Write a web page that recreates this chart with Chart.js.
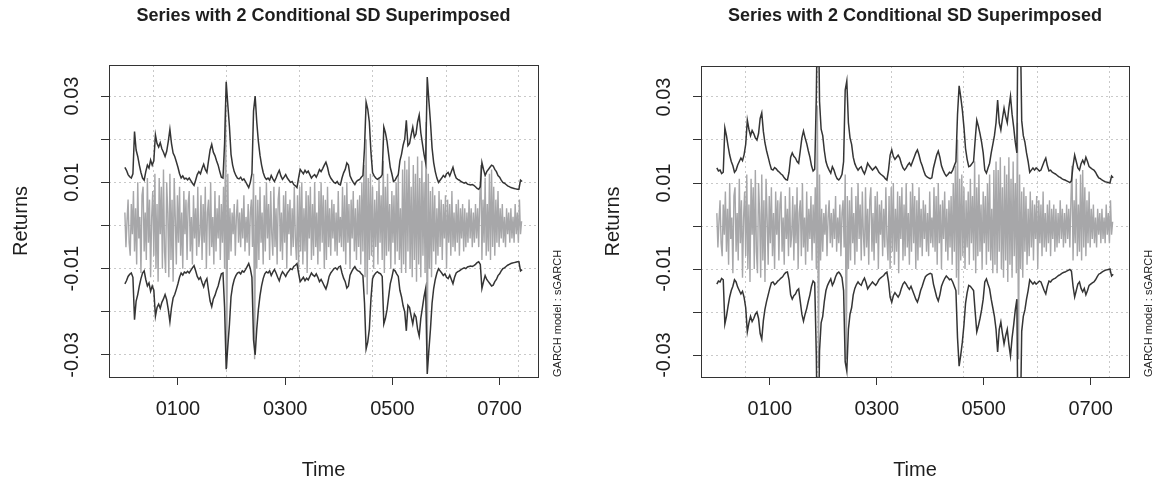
<!DOCTYPE html>
<html>
<head>
<meta charset="utf-8">
<script src="https://cdn.jsdelivr.net/npm/chart.js@4.4.1/dist/chart.umd.min.js"></script>
<style>
  html, body { margin: 0; padding: 0; background: #fff; }
  #wrap { position: relative; width: 1154px; height: 484px; }
  canvas { position: absolute; top: 0; }
</style>
</head>
<body>
<div id="wrap">
  <canvas id="left" width="577" height="484" style="left:0"></canvas>
  <canvas id="right" width="577" height="484" style="left:577px"></canvas>
</div>
<script>
const chartTitle = "Series with 2 Conditional SD Superimposed";
const modelNote = "GARCH model : sGARCH";
const xTitle = "Time";
const yTitle = "Returns";

const xTickValues = [100, 300, 500, 700];
const xTickLabels = ["0100", "0300", "0500", "0700"];
const xGridValues = [54, 190, 327, 463, 600, 736];
const yTickValues = [-0.03, -0.02, -0.01, 0, 0.01, 0.02, 0.03];
const yLabelValues = [-0.03, -0.01, 0.01, 0.03];
const yLabelText = ["-0.03", "-0.01", "0.01", "0.03"];

// returns, read every 2nd observation (t = 1, 3, 5 ... 741)
const returns = [
  0.003, -0.005, 0.001, 0.006, -0.004, -0.007, 0.005, -0.002, 0.008, -0.006,
  0.004, -0.009, 0.010, -0.003, 0.002, -0.011, 0.007, 0.009, -0.006, 0.003,
  -0.008, 0.011, -0.004, 0.006, -0.012, 0.002, 0.008, -0.007, 0.012, -0.010,
  0.005, -0.013, 0.011, -0.002, 0.009, -0.010, 0.013, -0.006, -0.011, 0.010,
  0.003, -0.012, 0.012, -0.008, 0.006, -0.013, 0.011, 0.002, -0.009, 0.007,
  -0.004, 0.009, -0.007, 0.003, -0.010, 0.008, -0.002, 0.006, -0.008, 0.005,
  0.008, -0.006, 0.002, -0.009, 0.007, -0.003, 0.004, -0.007, 0.009, -0.005,
  -0.002, 0.007, -0.008, 0.005, -0.004, 0.009, -0.010, 0.003, 0.006, -0.007,
  0.010, -0.005, 0.002, -0.009, 0.008, -0.006, 0.004, -0.003, 0.007, -0.008,
  0.005, -0.004, 0.009, -0.010, 0.028, -0.033, 0.012, -0.008,
  0.004, -0.006, 0.003, -0.002, 0.005, -0.007, 0.002, 0.006, -0.004, 0.003,
  -0.005, 0.004, -0.003, 0.007, -0.006, 0.002, -0.004, 0.005, -0.007, 0.003, 0.006,
  -0.005, 0.012, -0.031, 0.007, -0.010,
  0.006, -0.008, 0.009, -0.004, 0.003, -0.009, 0.007, -0.006, 0.010, -0.003,
  0.005, -0.008, 0.008, -0.002, -0.007, 0.009, -0.005, 0.004, -0.009, 0.006,
  0.009, -0.006, 0.003, -0.008, 0.007, -0.004, 0.008, -0.010, 0.005, -0.002,
  0.006, -0.007, 0.004, -0.005, 0.009, -0.003, -0.008, 0.007, -0.010, 0.009, -0.006,
  0.010, -0.009, 0.004, -0.006, 0.008, -0.011, 0.007, -0.003, 0.009, -0.008,
  0.005, -0.007, 0.010, -0.005, 0.003, -0.009, 0.008, -0.006, 0.010, -0.004,
  0.007, -0.010, 0.006, -0.008, 0.009, -0.005, 0.004, -0.007, 0.006, -0.003,
  0.005, -0.006, 0.003, -0.007, 0.008, -0.004, 0.002, -0.005, 0.009, -0.006,
  0.007, -0.009, 0.010, -0.004, 0.005, -0.010, 0.006, -0.003, 0.008, -0.006,
  0.004, -0.008, 0.006, -0.005, 0.007,
  -0.009, 0.010, -0.006, 0.014, -0.012, 0.020, -0.016, 0.011, -0.008, 0.012, -0.007,
  0.009, -0.010, 0.006, -0.005, 0.008, -0.009, 0.011, -0.004, 0.007, -0.008,
  0.015, -0.011, 0.009, -0.007, 0.012, -0.006, 0.005, -0.010, 0.008, -0.004,
  0.007, -0.009, 0.010, -0.006, 0.012, -0.008, 0.004, -0.011, 0.013,
  -0.009, 0.015, -0.011, 0.013, -0.006, 0.016, -0.010, 0.009, -0.012, 0.014,
  -0.008, 0.012, -0.013, 0.016, -0.009, 0.011, -0.012, 0.015, -0.007, 0.010, -0.011,
  0.024, -0.031, 0.012, -0.010,
  0.008, -0.012, 0.009, -0.006, 0.007, -0.009, 0.004, -0.007, 0.008, -0.005,
  0.006, -0.008, 0.005, -0.003, 0.007, -0.010, 0.006, -0.004, 0.005, -0.007,
  0.008, -0.005, 0.003, -0.006, 0.005, -0.004, 0.006, -0.007, 0.004, -0.003,
  0.005, -0.006, 0.004, -0.005, 0.003, -0.004, 0.006, -0.003, 0.004, -0.005,
  0.003, -0.004, 0.005, -0.003, 0.004,
  -0.005, 0.006, 0.014, -0.008, 0.006, -0.004, 0.011, -0.007, 0.005, -0.006,
  0.012, -0.008, 0.013, -0.005, 0.009, -0.007, 0.006, -0.004, 0.008, -0.005,
  0.004, -0.003, 0.005, -0.004, 0.002, -0.005, 0.004, -0.002, 0.003, -0.004,
  0.004, -0.003, 0.002, -0.004, 0.005, -0.002, 0.003, -0.004, 0.006, -0.002, 0.001
];

// 2 x conditional SD, left panel, read every 3rd observation (t = 1, 4 ... 742)
const sd2Left = [
  0.0135, 0.0128, 0.0118, 0.0113, 0.0110, 0.0120, 0.0218, 0.0175, 0.0160, 0.0140,
  0.0123, 0.0110, 0.0105, 0.0125, 0.0140, 0.0133, 0.0152, 0.0140, 0.0150, 0.0210,
  0.0190, 0.0182, 0.0192, 0.0178, 0.0170, 0.0160, 0.0172, 0.0195, 0.0223, 0.0190,
  0.0168, 0.0160, 0.0148, 0.0135, 0.0120, 0.0110, 0.0115, 0.0108, 0.0110, 0.0106,
  0.0110, 0.0104, 0.0098, 0.0093, 0.0105, 0.0118, 0.0125, 0.0120, 0.0132, 0.0142,
  0.0130, 0.0123, 0.0150, 0.0175, 0.0188, 0.0170, 0.0162, 0.0150, 0.0140, 0.0125,
  0.0112, 0.0110, 0.0190, 0.0333, 0.0280, 0.0230, 0.0165, 0.0140, 0.0125, 0.0116,
  0.0110, 0.0108, 0.0112, 0.0105, 0.0108, 0.0102, 0.0095, 0.0088, 0.0100, 0.0120,
  0.0265, 0.0300, 0.0240, 0.0195, 0.0163, 0.0140, 0.0123, 0.0112, 0.0107, 0.0110,
  0.0105, 0.0116, 0.0108, 0.0102, 0.0110, 0.0120, 0.0128, 0.0115, 0.0107, 0.0112,
  0.0118, 0.0110, 0.0105, 0.0100, 0.0102, 0.0095, 0.0092, 0.0088, 0.0110, 0.0130,
  0.0125, 0.0120, 0.0128, 0.0122, 0.0126, 0.0118, 0.0110, 0.0115, 0.0118, 0.0112,
  0.0120, 0.0130, 0.0125, 0.0132, 0.0140, 0.0147, 0.0135, 0.0118, 0.0110, 0.0105,
  0.0100, 0.0098, 0.0102, 0.0096, 0.0094, 0.0110, 0.0122, 0.0130, 0.0145, 0.0140,
  0.0115, 0.0107, 0.0100, 0.0095, 0.0102, 0.0105, 0.0107, 0.0112, 0.0116, 0.0180,
  0.0286, 0.0270, 0.0240, 0.0170, 0.0123, 0.0115, 0.0110, 0.0107, 0.0110, 0.0112,
  0.0118, 0.0228, 0.0215, 0.0195, 0.0165, 0.0135, 0.0120, 0.0102, 0.0105, 0.0112,
  0.0118, 0.0150, 0.0165, 0.0186, 0.0200, 0.0244, 0.0185, 0.0190, 0.0210, 0.0228,
  0.0205, 0.0212, 0.0240, 0.0256, 0.0215, 0.0190, 0.0165, 0.0146, 0.0344, 0.0290,
  0.0240, 0.0180, 0.0146, 0.0125, 0.0110, 0.0100, 0.0105, 0.0110, 0.0116, 0.0112,
  0.0120, 0.0123, 0.0115, 0.0125, 0.0135, 0.0120, 0.0110, 0.0107, 0.0105, 0.0102,
  0.0100, 0.0098, 0.0100, 0.0096, 0.0095, 0.0094, 0.0095, 0.0093, 0.0090, 0.0086,
  0.0084, 0.0090, 0.0146, 0.0130, 0.0116, 0.0125, 0.0130, 0.0135, 0.0140, 0.0138,
  0.0130, 0.0125, 0.0116, 0.0112, 0.0105, 0.0100, 0.0098, 0.0095, 0.0092, 0.0090,
  0.0088, 0.0087, 0.0086, 0.0085, 0.0084, 0.0084, 0.0105, 0.0102
];

// 2 x conditional SD, right panel, same time points
const sd2Right = [
  0.0135, 0.0128, 0.0130, 0.0122, 0.0125, 0.0228, 0.0210, 0.0186, 0.0165, 0.0150,
  0.0140, 0.0125, 0.0130, 0.0142, 0.0150, 0.0158, 0.0152, 0.0166, 0.0190, 0.0246,
  0.0225, 0.0210, 0.0222, 0.0215, 0.0205, 0.0200, 0.0215, 0.0250, 0.0263, 0.0220,
  0.0193, 0.0175, 0.0160, 0.0145, 0.0132, 0.0130, 0.0136, 0.0133, 0.0128, 0.0125,
  0.0121, 0.0118, 0.0112, 0.0108, 0.0107, 0.0125, 0.0160, 0.0170, 0.0162, 0.0158,
  0.0150, 0.0146, 0.0175, 0.0205, 0.0221, 0.0205, 0.0192, 0.0175, 0.0160, 0.0140,
  0.0128, 0.0132, 0.0300, 0.0600, 0.0290, 0.0225, 0.0210, 0.0175, 0.0150, 0.0138,
  0.0130, 0.0123, 0.0138, 0.0130, 0.0118, 0.0110, 0.0107, 0.0112, 0.0120, 0.0150,
  0.0316, 0.0337, 0.0240, 0.0205, 0.0190, 0.0160, 0.0145, 0.0136, 0.0130, 0.0135,
  0.0138, 0.0128, 0.0121, 0.0132, 0.0146, 0.0140, 0.0135, 0.0130, 0.0134, 0.0138,
  0.0132, 0.0125, 0.0121, 0.0118, 0.0115, 0.0110, 0.0107, 0.0130, 0.0165, 0.0177,
  0.0162, 0.0155, 0.0160, 0.0165, 0.0158, 0.0145, 0.0135, 0.0130, 0.0135, 0.0142,
  0.0147, 0.0140, 0.0150, 0.0160, 0.0170, 0.0177, 0.0165, 0.0150, 0.0140, 0.0128,
  0.0118, 0.0114, 0.0112, 0.0110, 0.0112, 0.0135, 0.0150, 0.0165, 0.0174, 0.0160,
  0.0140, 0.0130, 0.0122, 0.0116, 0.0120, 0.0125, 0.0123, 0.0130, 0.0140, 0.0150,
  0.0260, 0.0326, 0.0300, 0.0270, 0.0230, 0.0180, 0.0155, 0.0138, 0.0140, 0.0145,
  0.0150, 0.0200, 0.0246, 0.0232, 0.0215, 0.0195, 0.0170, 0.0130, 0.0123, 0.0135,
  0.0146, 0.0170, 0.0190, 0.0210, 0.0240, 0.0293, 0.0240, 0.0223, 0.0250, 0.0274,
  0.0255, 0.0240, 0.0275, 0.0302, 0.0260, 0.0230, 0.0195, 0.0170, 0.0650, 0.0500,
  0.0245, 0.0210, 0.0195, 0.0170, 0.0150, 0.0125, 0.0130, 0.0135, 0.0130, 0.0135,
  0.0132, 0.0128, 0.0130, 0.0140, 0.0150, 0.0158, 0.0140, 0.0128, 0.0130, 0.0125,
  0.0123, 0.0121, 0.0118, 0.0115, 0.0113, 0.0110, 0.0108, 0.0107, 0.0105, 0.0103,
  0.0101, 0.0105, 0.0140, 0.0165, 0.0150, 0.0135, 0.0130, 0.0145, 0.0153, 0.0145,
  0.0160, 0.0150, 0.0138, 0.0135, 0.0132, 0.0130, 0.0125, 0.0118, 0.0112, 0.0110,
  0.0107, 0.0105, 0.0103, 0.0102, 0.0101, 0.0100, 0.0116, 0.0112
];

const timeRet = returns.map((_, i) => 1 + 2 * i);
const timeSd = sd2Left.map((_, i) => 1 + 3 * i);

const FONT = "'Liberation Sans', Arial, Helvetica, sans-serif";
const INK = '#1e1e1e';

// titles, rotated y labels, model note and the box round the plot
const decor = {
  id: 'decor',
  afterDraw(chart) {
    const { ctx, chartArea: a } = chart;
    const ys = chart.scales.y;
    const cx = (a.left + a.right) / 2;
    ctx.save();
    ctx.strokeStyle = '#333';
    ctx.lineWidth = 1;
    ctx.strokeRect(a.left + 0.5, a.top + 0.5, a.right - a.left, a.bottom - a.top);

    ctx.fillStyle = INK;
    ctx.textAlign = 'center';
    ctx.textBaseline = 'middle';
    ctx.font = 'bold 18px ' + FONT;
    ctx.fillText(chartTitle, cx, 16);

    ctx.font = '20px ' + FONT;
    ctx.fillText(xTitle, cx, 470);

    yLabelValues.forEach((v, i) => {
      ctx.save();
      ctx.translate(a.left - 37, ys.getPixelForValue(v));
      ctx.rotate(-Math.PI / 2);
      ctx.fillText(yLabelText[i], 0, 0);
      ctx.restore();
    });

    ctx.save();
    ctx.translate(a.left - 88, (a.top + a.bottom) / 2);
    ctx.rotate(-Math.PI / 2);
    ctx.fillText(yTitle, 0, 0);
    ctx.restore();

    ctx.save();
    ctx.font = '11px ' + FONT;
    ctx.textAlign = 'left';
    ctx.translate(a.right + 20, a.bottom);
    ctx.rotate(-Math.PI / 2);
    ctx.fillText(modelNote, 0, 0);
    ctx.restore();
    ctx.restore();
  }
};

function makePanel(id, sd2, box) {
  const upper = timeSd.map((t, i) => ({ x: t, y: sd2[i] }));
  const lower = timeSd.map((t, i) => ({ x: t, y: -sd2[i] }));
  const ret = timeRet.map((t, i) => ({ x: t, y: returns[i] }));

  new Chart(document.getElementById(id), {
    type: 'line',
    data: {
      datasets: [
        { data: upper, borderColor: '#353535', borderWidth: 1.5 },
        { data: lower, borderColor: '#353535', borderWidth: 1.5 },
        { data: ret, borderColor: '#a7a7a9', borderWidth: 1.4 }
      ]
    },
    options: {
      responsive: false,
      animation: false,
      events: [],
      elements: { point: { radius: 0 }, line: { tension: 0 } },
      layout: { padding: { top: box.top, right: box.right, left: 0, bottom: 0 } },
      plugins: { legend: { display: false }, tooltip: { enabled: false } },
      scales: {
        x: {
          type: 'linear',
          position: 'bottom',
          min: -28.6,
          max: 771.6,
          afterFit: (s) => { s.height = 484 - box.bottom; },
          afterBuildTicks: (s) => { s.ticks = xTickValues.map(v => ({ value: v })); },
          border: { display: false },
          grid: { drawOnChartArea: false, drawTicks: true, tickLength: 8, tickColor: '#333', tickWidth: 1 },
          ticks: {
            autoSkip: false,
            maxRotation: 0,
            padding: 12,
            color: INK,
            font: { family: FONT, size: 20 },
            callback: (v) => xTickLabels[xTickValues.indexOf(v)]
          }
        },
        xg: {
          type: 'linear',
          position: 'bottom',
          min: -28.6,
          max: 771.6,
          afterFit: (s) => { s.height = 0; },
          afterBuildTicks: (s) => { s.ticks = xGridValues.map(v => ({ value: v })); },
          border: { display: false, dash: [2, 3] },
          grid: { color: '#c9c9c9', lineWidth: 1, drawTicks: false },
          ticks: { display: false }
        },
        y: {
          type: 'linear',
          min: -0.0351,
          max: 0.0372,
          afterFit: (s) => { s.width = box.left; },
          afterBuildTicks: (s) => { s.ticks = yTickValues.map(v => ({ value: v })); },
          border: { display: false, dash: [2, 3] },
          grid: { color: '#c9c9c9', lineWidth: 1, drawTicks: true, tickLength: 8, tickColor: '#333', tickWidth: 1, tickBorderDash: [] },
          ticks: { display: false }
        }
      }
    },
    plugins: [decor]
  });
}

makePanel('left', sd2Left, { left: 109, right: 39, top: 65, bottom: 377 });
makePanel('right', sd2Right, { left: 124, right: 25, top: 66, bottom: 377 });
</script>
</body>
</html>
